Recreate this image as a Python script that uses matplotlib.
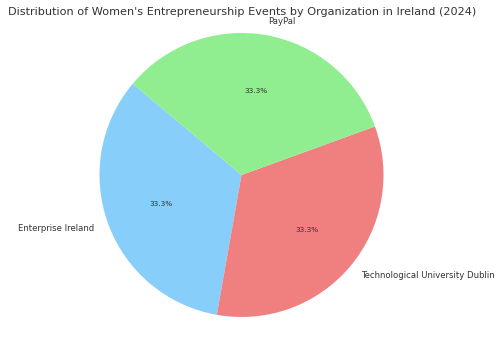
import matplotlib
matplotlib.use("Agg")
import matplotlib.pyplot as plt

labels = ['Enterprise Ireland', 'Technological University Dublin', 'PayPal']
events = [1, 1, 1]
colors = ['lightskyblue', 'lightcoral', 'lightgreen']

W, H = 500, 338
fig = plt.figure(figsize=(W / 100, H / 100), dpi=100)
# pie centre at (241.5, 175) px, radius 142 px
r_px = 142
lim = 1.1
side = 2 * lim * r_px
ax = fig.add_axes([(241.5 - side / 2) / W, (H - 175 - side / 2) / H, side / W, side / H])
wedges, texts, autotexts = ax.pie(events, labels=labels, colors=colors,
                                  autopct='%1.1f%%', startangle=140,
                                  textprops={'fontsize': 6.1, 'color': '#333333'})
for t in autotexts:
    t.set_fontsize(5.3)
ax.set_xlim(-lim, lim)
ax.set_ylim(-lim, lim)
ax.set_aspect('equal')
fig.text(242 / W, 1 - 12 / H,
         "Distribution of Women's Entrepreneurship Events by Organization in Ireland (2024)",
         fontsize=8.1, color='#333333', ha='center', va='center')

fig.savefig('out.png', dpi=100)
